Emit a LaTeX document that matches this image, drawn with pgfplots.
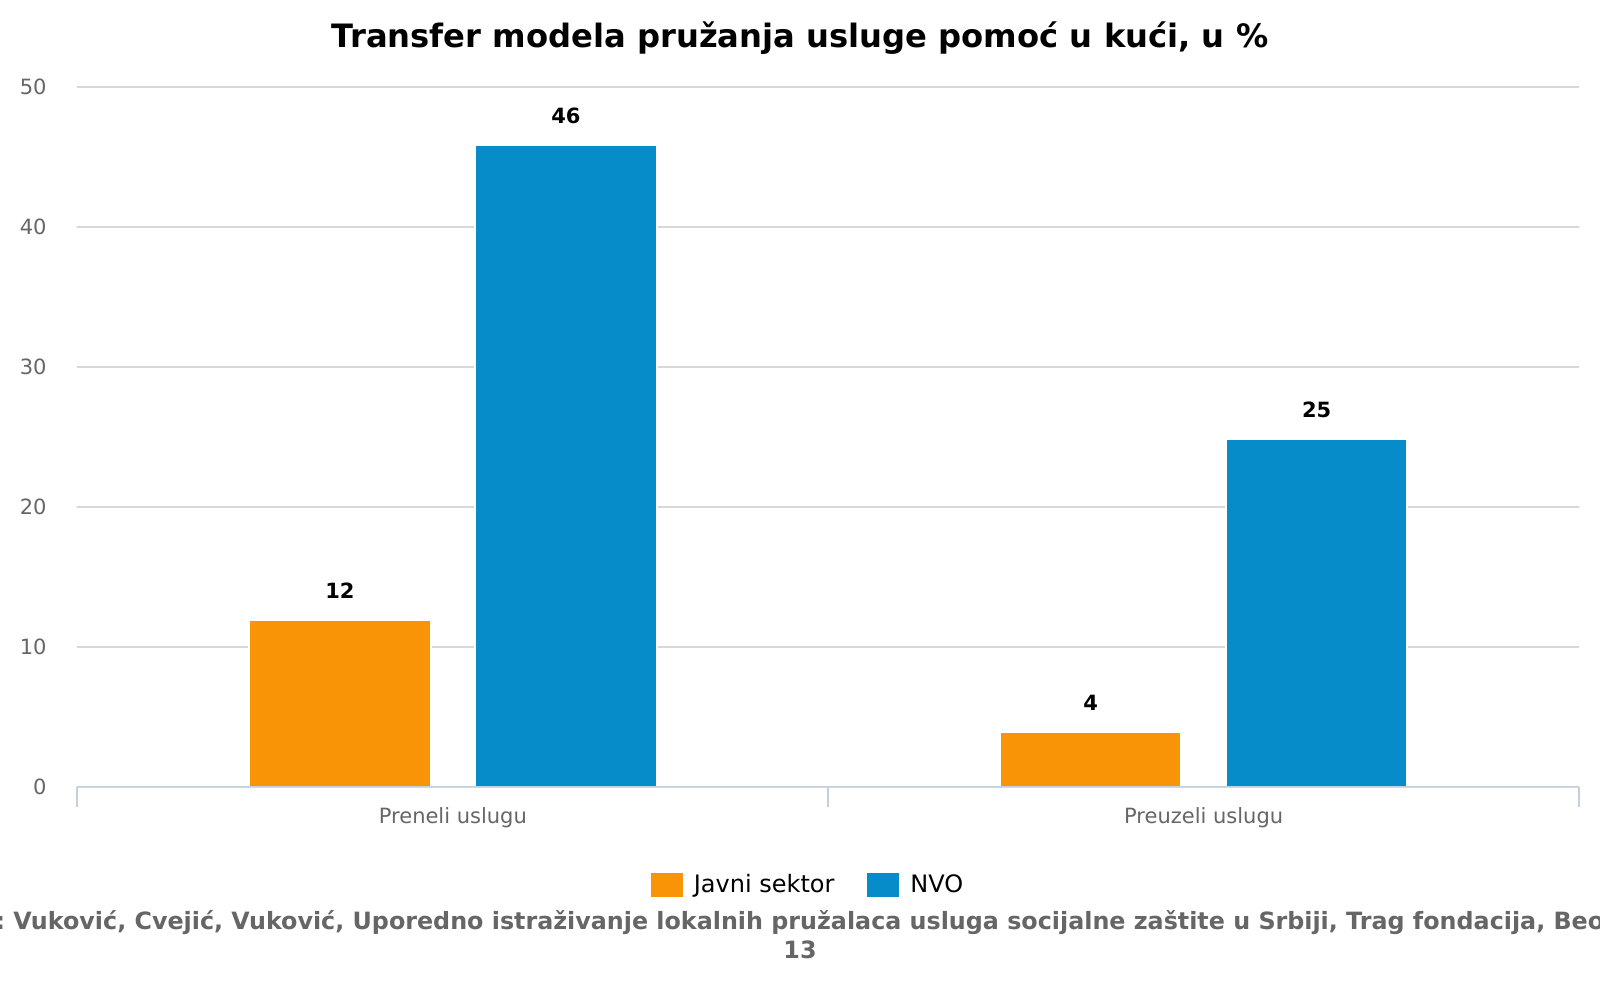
\documentclass[border=0pt]{standalone}
\usepackage{pgfplots}
\pgfplotsset{compat=1.18}
\usepackage{fontspec}
\setmainfont{DejaVu Sans}
\definecolor{orng}{RGB}{248,148,6}
\definecolor{blu}{RGB}{6,141,201}
\definecolor{gridc}{RGB}{216,216,216}
\definecolor{axc}{RGB}{192,208,224}
\definecolor{txtg}{RGB}{102,102,102}
\begin{document}
\begin{tikzpicture}
\path[use as bounding box, clip] (0,0) rectangle (800pt,500pt);
\begin{axis}[
  at={(38.75pt,106.65pt)}, anchor=south west,
  scale only axis, width=750.75pt, height=350pt,
  xmin=-0.5, xmax=1.5, ymin=0, ymax=50,
  ytick={0,10,20,30,40,50},
  xtick={0,1}, xticklabels={Preneli uslugu, Preuzeli uslugu},
  minor xtick={-0.5,0.5,1.5},
  xtick pos=lower, ytick pos=left,
  major tick length=0pt, minor tick length=10pt, tick align=outside,
  minor tick style={draw=axc, line width=1pt},
  axis line style={draw=none},
  ymajorgrids, grid style={draw=gridc, line width=1pt},
  /pgf/number format/assume math mode=true,
  yticklabel style={font=\fontsize{10.5}{12}\selectfont, text=txtg, anchor=east, inner sep=0pt, xshift=-15.25pt},
  xticklabel style={font=\fontsize{10.5}{12}\selectfont, text=txtg, anchor=base, inner sep=0pt, yshift=-18.65pt},
  ybar, bar width=0.242,
  nodes near coords,
  nodes near coords style={font=\bfseries\fontsize{10.5}{12}\selectfont, text=black, anchor=south, inner sep=0pt, yshift=10.5pt,
    /pgf/number format/fixed, /pgf/number format/precision=0},
  legend columns=2,
  legend style={draw=none, fill=none, at={(0.4859,-0.1404)}, anchor=center,
    font=\fontsize{12}{14}\selectfont, cells={anchor=west}, nodes={inner sep=0pt},
    /tikz/every odd column/.append style={column sep=5.5pt},
    /tikz/every even column/.append style={column sep=16.5pt}},
  legend image code/.code={\fill[#1, draw=none] (0pt,-6pt) rectangle (16pt,6pt);},
]
\addplot[fill=orng, draw=white, line width=1pt, bar shift=-0.1505] coordinates {(0,11.9) (1,3.9)};
\addlegendentry{Javni sektor}
\addplot[fill=blu, draw=white, line width=1pt, bar shift=0.1505] coordinates {(0,45.8) (1,24.8)};
\addlegendentry{NVO}
\draw[axc, line width=1pt] (rel axis cs:0,0) -- (rel axis cs:1,0);
\end{axis}
\node[anchor=base, font=\bfseries\fontsize{16.1}{19}\selectfont] at (400pt,476pt) {Transfer modela pružanja usluge pomoć u kući, u \%};
\node[anchor=base west, inner sep=0pt, text=txtg, font=\bfseries\fontsize{11.9}{14}\selectfont] at (6.5pt,35pt) {\llap{Izvor:\ }Vuković, Cvejić, Vuković, Uporedno istraživanje lokalnih pružalaca usluga socijalne zaštite u Srbiji, Trag fondacija, Beograd, 20};
\node[anchor=base, inner sep=0pt, text=txtg, font=\bfseries\fontsize{11.9}{14}\selectfont] at (400pt,20.5pt) {13};
\end{tikzpicture}
\end{document}
